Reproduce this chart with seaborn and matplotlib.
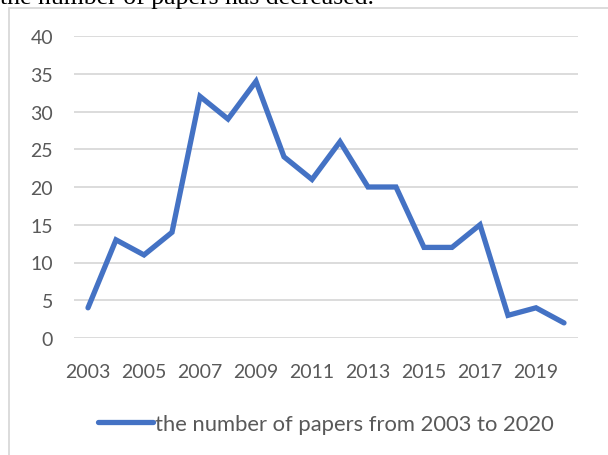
import pandas as pd
import matplotlib.pyplot as plt
import seaborn as sns
from matplotlib.patches import Rectangle

# values
years = [2003, 2004, 2005, 2006, 2007, 2008, 2009, 2010, 2011,
         2012, 2013, 2014, 2015, 2016, 2017, 2018, 2019, 2020]
papers = [4, 13, 11, 14, 32, 29, 34, 24, 21, 26, 20, 20, 12, 12, 15, 3, 4, 2]
series_name = 'the number of papers from 2003 to 2020'
y_ticks = [0, 5, 10, 15, 20, 25, 30, 35, 40]

df = pd.DataFrame({'pos': range(len(years)), 'year': years, 'papers': papers})

sns.set_style('white')
plt.rcParams['font.family'] = ['Lato', 'DejaVu Sans']

W, H = 608, 456
fig = plt.figure(figsize=(W / 100, H / 100), dpi=100)

# chart frame (only left/top edges visible in the crop)
fig.patches.append(Rectangle((9 / W, -0.1), 1.2, 1.1 - 9 / H, transform=fig.transFigure,
                             fill=False, edgecolor='#d9d9d9', linewidth=1.3))
# cropped sentence above the chart
fig.text(0.0, 1 - 4 / H, 'the number of papers has decreased.', family='Liberation Serif',
         fontsize=18.5, color='black', va='baseline', ha='left')

ax = fig.add_axes([74 / W, 1 - 339 / H, (578 - 74) / W, (339 - 37) / H])
sns.lineplot(data=df, x='pos', y='papers', ax=ax, color='#4472c4', linewidth=3.8,
             label=series_name, solid_capstyle='round', solid_joinstyle='miter')

ax.set_xlim(-0.5, len(years) - 0.5)
ax.set_ylim(0, 40)
ax.set_yticks(y_ticks)
ax.set_xticks(df['pos'][::2])
ax.set_xticklabels([str(y) for y in years[::2]])
ax.yaxis.grid(True, color='#d9d9d9', linewidth=1.3)
ax.set_axisbelow(True)
for s in ax.spines.values():
    s.set_visible(False)
ax.tick_params(length=0, labelsize=14, labelcolor='#595959')
ax.tick_params(axis='x', pad=18)
ax.tick_params(axis='y', pad=15)
ax.set_xlabel('')
ax.set_ylabel('')

ax.legend(loc='center', bbox_to_anchor=(0.5, (339 - 425) / (339 - 37)), frameon=False,
          fontsize=15.8, labelcolor='#595959', handlelength=2.5, handletextpad=0.1)

fig.savefig('out.png', dpi=100)
